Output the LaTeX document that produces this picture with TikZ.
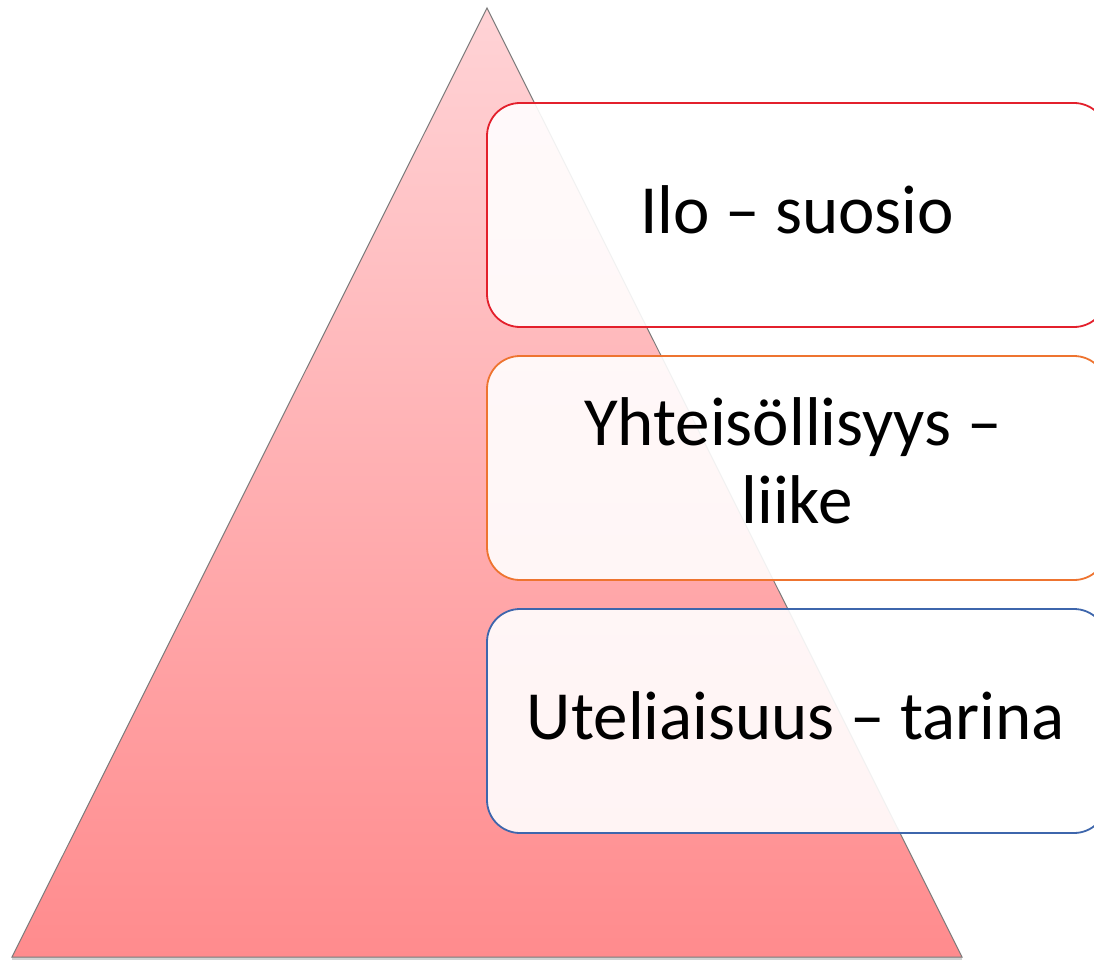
\documentclass[tikz,border=0pt]{standalone}
\usepackage{fontspec}
\setmainfont{Carlito}
\definecolor{triTop}{HTML}{FFD3D6}
\definecolor{triBot}{HTML}{FF8B8D}
\definecolor{triEdge}{HTML}{7A7A7A}
\definecolor{cRed}{HTML}{E3202C}
\definecolor{cOrange}{HTML}{EE7430}
\definecolor{cBlue}{HTML}{3E66AC}
\tikzset{
  levelbox/.style={draw, line width=1.8pt, rounded corners=33pt, fill=white, fill opacity=0.9,
    minimum width=620pt, minimum height=224pt, inner sep=0pt},
  lbl/.style={anchor=base, inner sep=0pt, font=\fontsize{69}{78}\selectfont, text=black}
}
\begin{document}
\begin{tikzpicture}[x=1pt,y=-1pt]
\useasboundingbox (0,0) rectangle (1094,960);
\clip (0,0) rectangle (1094,960);
\fill[white] (0,0) rectangle (1094,960);
\coordinate (apex) at (487,8);
\coordinate (bl) at (12,957);
\coordinate (br) at (962,957);
\draw[black!35, line width=2.5pt, opacity=0.5] ([yshift=-1.5pt]bl) -- ([yshift=-1.5pt]br);
\shade[top color=triTop, bottom color=triBot, draw=triEdge, line width=1pt] (apex) -- (br) -- (bl) -- cycle;
\node[levelbox, draw=cRed] (b1) at (797,215) {};
\node[levelbox, draw=cOrange] (b2) at (797,468) {};
\node[levelbox, draw=cBlue] (b3) at (797,721) {};
\node[lbl] (t1) at (797,233) {Ilo – suosio};
\node[lbl] (t2a) at (793,445) {Yhteisöllisyys –};
\node[lbl] (t2b) at (797,523) {liike};
\node[lbl] (t3) at (796,739) {Uteliaisuus – tarina};
\end{tikzpicture}
\end{document}
